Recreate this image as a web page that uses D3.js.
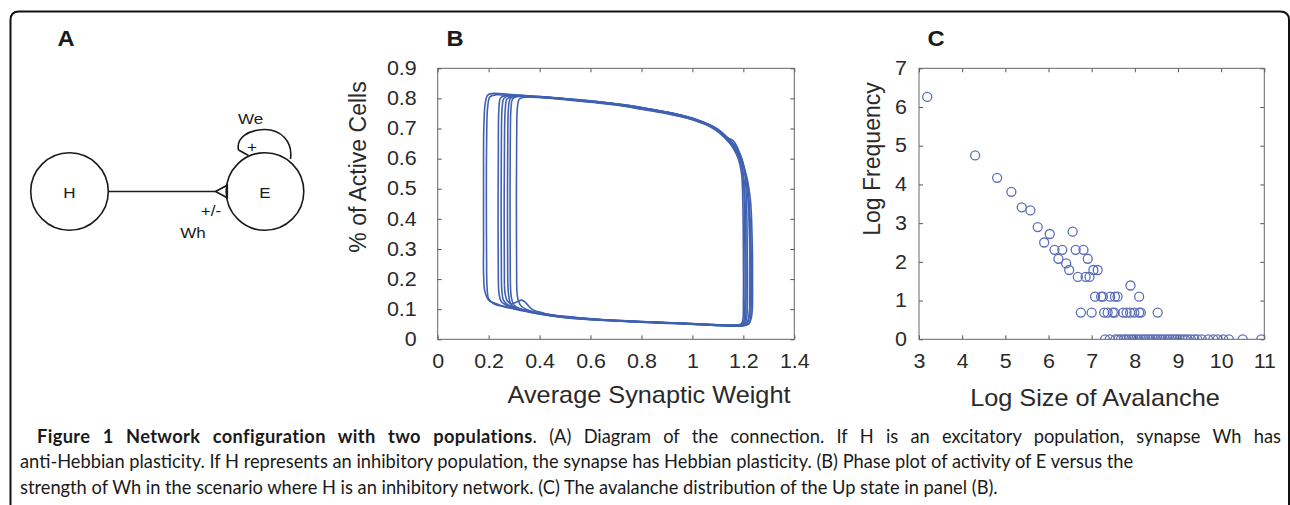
<!DOCTYPE html>
<html>
<head>
<meta charset="utf-8">
<script src="https://cdn.jsdelivr.net/npm/d3@7/dist/d3.min.js"></script>
<style>
html,body{margin:0;padding:0;background:#fff;}
svg{display:block;}
</style>
</head>
<body>
<svg id="fig" width="1290" height="505"></svg>
<script>
// ---------------- DATA ----------------
// Panel B: phase-plot cycles [average synaptic weight, fraction active]
const loop1 = [[0.18,0.30],[0.18,0.50],[0.181,0.70],[0.186,0.78],[0.195,0.81],[0.21,0.816],[0.3,0.812],[0.4,0.806],[0.5,0.799],[0.6,0.79],[0.7,0.781],[0.8,0.768],[0.9,0.753],[1.0,0.733],[1.05,0.719],[1.1,0.696],[1.15,0.656],[1.185,0.615],[1.205,0.56],[1.218,0.48],[1.224,0.38],[1.226,0.2],[1.224,0.09],[1.215,0.055],[1.2,0.047],[1.1,0.048],[1.0,0.052],[0.9,0.055],[0.8,0.058],[0.7,0.062],[0.6,0.067],[0.5,0.075],[0.4,0.086],[0.3,0.102],[0.24,0.115],[0.2,0.13],[0.185,0.16],[0.18,0.22],[0.18,0.30]];
const loop2 = [[0.192,0.25],[0.191,0.45],[0.192,0.65],[0.196,0.77],[0.205,0.805],[0.23,0.812],[0.3,0.808],[0.4,0.803],[0.5,0.796],[0.6,0.787],[0.7,0.778],[0.8,0.764],[0.9,0.749],[1.0,0.73],[1.06,0.713],[1.1,0.69],[1.15,0.648],[1.19,0.6],[1.213,0.54],[1.228,0.46],[1.234,0.35],[1.236,0.2],[1.233,0.08],[1.222,0.052],[1.2,0.045],[1.1,0.046],[1.0,0.05],[0.9,0.054],[0.8,0.057],[0.7,0.061],[0.6,0.066],[0.5,0.073],[0.4,0.084],[0.32,0.097],[0.26,0.108],[0.22,0.118],[0.2,0.135],[0.194,0.17],[0.192,0.25]];
const loop3 = [[0.238,0.2],[0.237,0.4],[0.238,0.6],[0.24,0.76],[0.246,0.8],[0.26,0.808],[0.35,0.806],[0.45,0.801],[0.55,0.794],[0.65,0.786],[0.75,0.775],[0.85,0.761],[0.95,0.744],[1.02,0.727],[1.08,0.705],[1.12,0.68],[1.16,0.64],[1.185,0.6],[1.2,0.55],[1.207,0.45],[1.21,0.3],[1.21,0.12],[1.207,0.065],[1.198,0.05],[1.15,0.047],[1.05,0.05],[0.95,0.054],[0.85,0.057],[0.75,0.06],[0.65,0.065],[0.55,0.071],[0.45,0.08],[0.38,0.09],[0.32,0.1],[0.28,0.11],[0.25,0.125],[0.241,0.15],[0.238,0.2]];
const loop4 = [[0.25,0.22],[0.249,0.45],[0.25,0.65],[0.253,0.77],[0.26,0.8],[0.28,0.81],[0.35,0.809],[0.45,0.803],[0.55,0.796],[0.65,0.787],[0.75,0.777],[0.85,0.762],[0.95,0.745],[1.03,0.725],[1.09,0.7],[1.13,0.672],[1.16,0.635],[1.18,0.6],[1.193,0.55],[1.198,0.45],[1.2,0.3],[1.2,0.12],[1.198,0.065],[1.19,0.05],[1.12,0.048],[1.02,0.051],[0.92,0.055],[0.82,0.058],[0.72,0.062],[0.62,0.066],[0.52,0.073],[0.42,0.083],[0.36,0.093],[0.31,0.105],[0.275,0.115],[0.258,0.13],[0.252,0.16],[0.25,0.22]];
const loop5 = [[0.262,0.18],[0.261,0.4],[0.262,0.62],[0.265,0.76],[0.272,0.798],[0.29,0.806],[0.4,0.804],[0.5,0.797],[0.6,0.789],[0.7,0.78],[0.8,0.766],[0.9,0.751],[1.0,0.731],[1.05,0.716],[1.1,0.694],[1.14,0.665],[1.17,0.632],[1.195,0.59],[1.212,0.53],[1.224,0.44],[1.23,0.32],[1.231,0.15],[1.228,0.07],[1.22,0.05],[1.2,0.046],[1.1,0.047],[1.0,0.051],[0.9,0.055],[0.8,0.059],[0.7,0.063],[0.6,0.068],[0.5,0.076],[0.42,0.086],[0.37,0.1],[0.345,0.122],[0.33,0.13],[0.31,0.124],[0.29,0.118],[0.273,0.128],[0.265,0.15],[0.262,0.18]];
const loop6 = [[0.275,0.2],[0.274,0.42],[0.275,0.64],[0.278,0.77],[0.285,0.8],[0.3,0.807],[0.4,0.805],[0.5,0.798],[0.6,0.791],[0.7,0.781],[0.8,0.769],[0.9,0.754],[1.0,0.735],[1.06,0.715],[1.1,0.698],[1.14,0.668],[1.17,0.64],[1.19,0.61],[1.205,0.56],[1.212,0.47],[1.215,0.33],[1.216,0.15],[1.213,0.07],[1.205,0.05],[1.18,0.045],[1.08,0.047],[0.98,0.051],[0.88,0.055],[0.78,0.058],[0.68,0.062],[0.58,0.067],[0.48,0.074],[0.4,0.084],[0.34,0.095],[0.3,0.105],[0.285,0.12],[0.278,0.15],[0.275,0.2]];
const loop7 = [[0.285,0.2],[0.284,0.45],[0.285,0.66],[0.288,0.77],[0.294,0.798],[0.31,0.806],[0.42,0.803],[0.52,0.796],[0.62,0.787],[0.72,0.777],[0.82,0.763],[0.92,0.748],[1.0,0.729],[1.06,0.71],[1.1,0.69],[1.135,0.67],[1.16,0.66],[1.175,0.64],[1.195,0.59],[1.21,0.54],[1.22,0.45],[1.225,0.3],[1.225,0.14],[1.222,0.07],[1.212,0.05],[1.19,0.044],[1.1,0.046],[1.0,0.05],[0.9,0.053],[0.8,0.057],[0.7,0.061],[0.6,0.065],[0.5,0.072],[0.42,0.082],[0.36,0.092],[0.32,0.102],[0.298,0.115],[0.289,0.14],[0.285,0.2]];
const loop8 = [[0.31,0.2],[0.309,0.45],[0.31,0.66],[0.313,0.77],[0.32,0.797],[0.34,0.804],[0.45,0.802],[0.55,0.795],[0.65,0.787],[0.75,0.776],[0.85,0.762],[0.95,0.746],[1.02,0.726],[1.07,0.708],[1.11,0.69],[1.15,0.655],[1.175,0.625],[1.19,0.59],[1.2,0.53],[1.204,0.43],[1.206,0.3],[1.206,0.12],[1.203,0.063],[1.195,0.05],[1.16,0.046],[1.06,0.049],[0.96,0.053],[0.86,0.056],[0.76,0.059],[0.66,0.064],[0.56,0.07],[0.46,0.078],[0.4,0.087],[0.36,0.096],[0.33,0.108],[0.316,0.13],[0.311,0.16],[0.31,0.2]];
const bLoops = [loop1, loop2, loop3, loop4, loop5, loop6, loop7, loop8];
const bXTicks = [0, 0.2, 0.4, 0.6, 0.8, 1, 1.2, 1.4];
const bYTicks = [0, 0.1, 0.2, 0.3, 0.4, 0.5, 0.6, 0.7, 0.8, 0.9];

// Panel C: avalanche distribution (log size, log frequency)
const cLogSize = [3.19, 4.30, 4.81, 5.14, 5.38, 5.58, 5.75, 5.90, 6.03, 6.14, 6.32, 6.23, 6.41, 6.48, 6.56, 6.63, 6.81, 6.91, 6.68, 6.86, 6.95, 7.04, 7.14, 7.90,
  7.08, 7.22, 7.26, 7.43, 7.54, 7.60, 8.10,
  6.75, 7.00, 7.29, 7.37, 7.49, 7.53, 7.73, 7.81, 7.89, 7.99, 8.10, 8.14, 8.53,
  7.31, 7.42, 7.55, 7.62, 7.68, 7.75, 7.80, 7.86, 7.92, 7.97, 8.03, 8.08, 8.14, 8.20, 8.25, 8.31, 8.36, 8.42, 8.48, 8.53, 8.59, 8.64, 8.70, 8.76, 8.81, 8.87, 8.93, 8.98, 9.04, 9.10, 9.16, 9.22, 9.30, 9.38, 9.45, 9.55, 9.70, 9.82, 9.92, 10.05, 10.18, 10.50, 10.93];
const cLogFreq = [6.26, 4.75, 4.17, 3.81, 3.41, 3.33, 2.90, 2.50, 2.72, 2.31, 2.31, 2.08, 1.96, 1.79, 2.78, 2.31, 2.31, 2.08, 1.61, 1.61, 1.61, 1.79, 1.79, 1.39,
  1.10, 1.10, 1.10, 1.10, 1.10, 1.10, 1.10,
  0.69, 0.69, 0.69, 0.69, 0.69, 0.69, 0.69, 0.69, 0.69, 0.69, 0.69, 0.69, 0.69,
  0, 0, 0, 0, 0, 0, 0, 0, 0, 0, 0, 0, 0, 0, 0, 0, 0, 0, 0, 0, 0, 0, 0, 0, 0, 0, 0, 0, 0, 0, 0, 0, 0, 0, 0, 0, 0, 0, 0, 0, 0, 0, 0];
const cXTicks = [3, 4, 5, 6, 7, 8, 9, 10, 11];
const cYTicks = [0, 1, 2, 3, 4, 5, 6, 7];

// Text
const panelLabels = ["A", "B", "C"];
const captionBold = "Figure 1 Network configuration with two populations";
const captionLines = [
  ". (A) Diagram of the connection. If H is an excitatory population, synapse Wh has",
  "anti-Hebbian plasticity. If H represents an inhibitory population, the synapse has Hebbian plasticity. (B) Phase plot of activity of E versus the",
  "strength of Wh in the scenario where H is an inhibitory network. (C) The avalanche distribution of the Up state in panel (B)."
];

// ---------------- DRAW ----------------
const svg = d3.select("#fig");
svg.append("rect").attr("width", 1290).attr("height", 505).attr("fill", "#fff");
const AX = "Liberation Sans, Arial, Helvetica, sans-serif";
const SX = 1.1; // horizontal stretch of the reference lettering

// Frame
svg.append("path")
  .attr("d", "M10.5,505 L10.5,20 Q10.5,11.5 19,11.5 L1280,11.5 Q1289,11.5 1289,20 L1289,505")
  .attr("fill", "none").attr("stroke", "#111").attr("stroke-width", 2);

// Panel letters
const letterPos = [[66, 46], [455, 46], [936, 46]];
svg.selectAll("text.plabel").data(panelLabels).enter().append("text")
  .attr("class", "plabel")
  .attr("transform", (d, i) => `translate(${letterPos[i][0]},${letterPos[i][1]}) scale(${SX},1)`)
  .attr("text-anchor", "middle")
  .attr("font-family", AX).attr("font-weight", "bold").attr("font-size", 21.5)
  .attr("fill", "#1a1a1a").text(d => d);

// ---------- Panel A diagram ----------
const gA = svg.append("g").attr("fill", "none").attr("stroke", "#1a1a1a").attr("stroke-width", 1.6);
gA.append("circle").attr("cx", 69.5).attr("cy", 191.5).attr("r", 38.8);
gA.append("circle").attr("cx", 265).attr("cy", 191.5).attr("r", 38.8);
gA.append("line").attr("x1", 108.3).attr("y1", 191.5).attr("x2", 215.5).attr("y2", 191.5);
gA.append("path").attr("d", "M215.5,191.5 L227.3,185.2 L227.3,197.8 Z");
gA.append("path").attr("d", "M290.5,159 C293,141 280,129 264,129.5 C248,130 236,138 238.5,150");
gA.append("path").attr("d", "M238.5,150 L248.5,155.5");
const aText = [["H", 69.5, 197.5], ["E", 265, 197.5], ["We", 250.5, 124], ["+", 252, 152], ["+/-", 211, 216], ["Wh", 193, 238]];
svg.selectAll("text.atext").data(aText).enter().append("text")
  .attr("class", "atext")
  .attr("transform", d => `translate(${d[1]},${d[2]}) scale(${SX},1)`).attr("text-anchor", "middle")
  .attr("font-family", AX).attr("font-size", 15.5).attr("fill", "#1a1a1a").text(d => d[0]);

// ---------- Axes helper ----------
function frame(g, x, y, xt, yt, fmt, yPad) {
  const [x0, x1] = x.range(), [y0, y1] = y.range();
  const tcol = "#555";
  const gb = g.append("g").attr("transform", `translate(0,${y0})`)
    .call(d3.axisBottom(x).tickValues(xt).tickSizeInner(-4).tickSizeOuter(0).tickPadding(15).tickFormat(fmt));
  const gt = g.append("g").attr("transform", `translate(0,${y1})`)
    .call(d3.axisTop(x).tickValues(xt).tickSizeInner(-4).tickSizeOuter(0).tickFormat(""));
  const gl = g.append("g").attr("transform", `translate(${x0},0)`)
    .call(d3.axisLeft(y).tickValues(yt).tickSizeInner(-4).tickSizeOuter(0).tickPadding(yPad).tickFormat(fmt));
  const gr = g.append("g").attr("transform", `translate(${x1},0)`)
    .call(d3.axisRight(y).tickValues(yt).tickSizeInner(-4).tickSizeOuter(0).tickFormat(""));
  [gb, gt, gl, gr].forEach(a => {
    a.select(".domain").remove();
    a.selectAll(".tick line").attr("stroke", tcol).attr("stroke-width", 1);
    a.selectAll("text").attr("font-family", AX).attr("font-size", 19.5).attr("fill", "#2a2a2a");
  });
  gb.selectAll(".tick text").attr("transform", `scale(${SX},1)`);
  gl.selectAll(".tick text").attr("x", -yPad / SX).attr("transform", `scale(${SX},1)`);
  g.append("rect").attr("x", x0).attr("y", y1).attr("width", x1 - x0).attr("height", y0 - y1)
    .attr("fill", "none").attr("stroke", "#666").attr("stroke-width", 1);
}
const fmt = d => String(+(+d).toFixed(1));

// ---------- Panel B ----------
const xB = d3.scaleLinear().domain([0, 1.4]).range([437.7, 794.3]);
const yB = d3.scaleLinear().domain([0, 0.9]).range([339.3, 68.3]);
const gB = svg.append("g");
const lineB = d3.line().x(d => xB(d[0])).y(d => yB(d[1])).curve(d3.curveCatmullRom.alpha(0.5));
gB.append("g").selectAll("path").data(bLoops).enter().append("path")
  .attr("d", lineB).attr("fill", "none").attr("stroke", "#4061b2").attr("stroke-width", 1.6)
  .attr("stroke-linejoin", "round");
frame(gB, xB, yB, bXTicks, bYTicks, fmt, 21);
gB.append("text").attr("transform", "translate(366,167) rotate(-90)").attr("text-anchor", "middle")
  .attr("font-family", AX).attr("font-size", 23).attr("fill", "#2a2a2a").text("% of Active Cells");
gB.append("text").attr("transform", `translate(649,403) scale(${SX},1)`).attr("text-anchor", "middle")
  .attr("font-family", AX).attr("font-size", 23).attr("fill", "#2a2a2a").text("Average Synaptic Weight");

// ---------- Panel C ----------
const xC = d3.scaleLinear().domain([3, 11]).range([919, 1264.3]);
const yC = d3.scaleLinear().domain([0, 7]).range([339.3, 68.3]);
const gC = svg.append("g");
svg.append("defs").append("clipPath").attr("id", "clipC").append("rect")
  .attr("x", 919).attr("y", 68.3).attr("width", 1264.3 - 919).attr("height", 339.3 - 68.3);
gC.append("g").attr("clip-path", "url(#clipC)").selectAll("circle").data(cLogSize).enter().append("circle")
  .attr("cx", d => xC(d)).attr("cy", (d, i) => yC(cLogFreq[i])).attr("r", 4.5)
  .attr("fill", "none").attr("stroke", "#5b6fb8").attr("stroke-width", 1.3);
frame(gC, xC, yC, cXTicks, cYTicks, fmt, 12);
gC.append("text").attr("transform", "translate(880,159) rotate(-90)").attr("text-anchor", "middle")
  .attr("font-family", AX).attr("font-size", 23).attr("fill", "#2a2a2a").text("Log Frequency");
gC.append("text").attr("transform", `translate(1095,406) scale(${SX},1)`).attr("text-anchor", "middle")
  .attr("font-family", AX).attr("font-size", 23).attr("fill", "#2a2a2a").text("Log Size of Avalanche");

// ---------- Caption ----------
const CF = "Lato, Noto Sans, sans-serif";
const capG = svg.append("g").attr("font-family", CF).attr("fill", "#1a1a1a");
// size the caption so lines 2 and 3 match the reference widths
const probe2 = capG.append("text").attr("font-size", 16).text(captionLines[1]);
const probe3 = capG.append("text").attr("font-size", 16).text(captionLines[2]);
const wSum = probe2.node().getComputedTextLength() + probe3.node().getComputedTextLength();
probe2.remove(); probe3.remove();
const capSize = 16 * (1092 + 1000) / wSum;
const t1 = capG.append("text").attr("x", 37).attr("y", 443).attr("font-size", capSize);
t1.append("tspan").attr("font-weight", "bold").attr("letter-spacing", 0.35).text(captionBold);
t1.append("tspan").text(captionLines[0]);
const nat = t1.node().getComputedTextLength();
const nSp = (captionBold + captionLines[0]).split(" ").length - 1;
t1.attr("word-spacing", Math.max(0, (1244 - nat) / nSp));
capG.append("text").attr("x", 20).attr("y", 468).attr("font-size", capSize).text(captionLines[1]);
capG.append("text").attr("x", 20).attr("y", 494).attr("font-size", capSize).text(captionLines[2]);
</script>
</body>
</html>
